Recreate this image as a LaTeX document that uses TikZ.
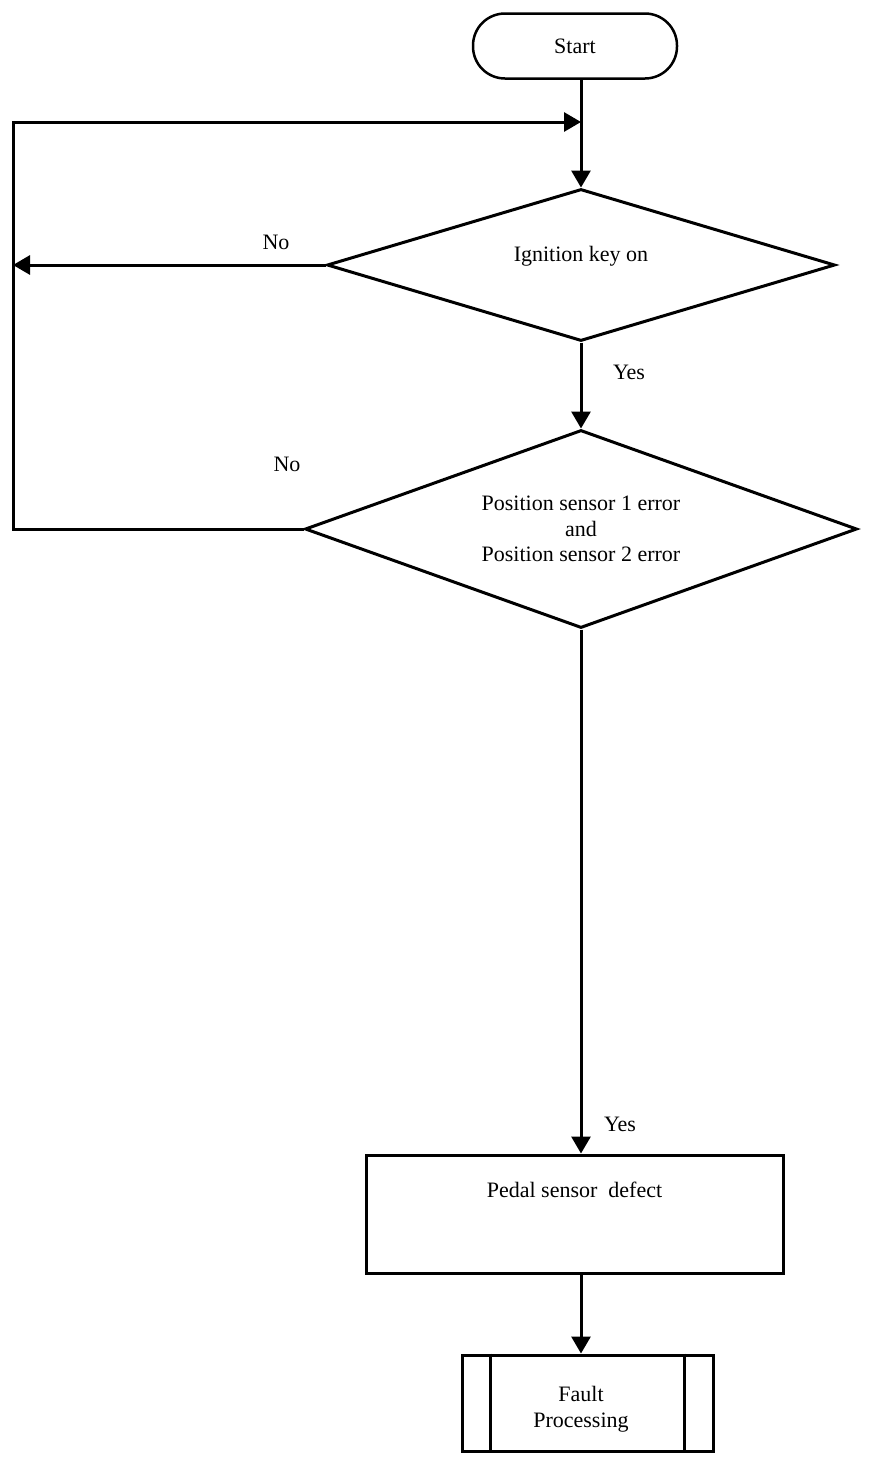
\documentclass[tikz,border=0pt]{standalone}
\usepackage{fontspec}
\setmainfont{Liberation Serif}
\usetikzlibrary{arrows.meta,shapes.geometric}

\begin{document}
\begin{tikzpicture}[x=1pt, y=-1pt, line width=3pt, >={Triangle[length=17pt,width=19pt]}, font=\fontsize{22}{25.5}\selectfont]
		%%%%% START %%%%%
		
		\useasboundingbox (0, 0) rectangle (880, 1462);
		
		\node[draw, line width=2.5pt, rounded corners=32pt, minimum width=204pt, minimum height=65pt] (start) at (575, 46) {\raisebox{-4pt}{Start}};
		
		\node[draw, diamond, aspect=3.3, inner sep=0pt, minimum width=508pt, minimum height=152pt] (key) at (581, 265) {\raisebox{22pt}{Ignition key on}};
		
		\node[draw, diamond, aspect=2.8, inner sep=0pt, align=center, minimum width=552pt, minimum height=198pt] (sensors) at (581, 529) {Position sensor 1 error\\and\\Position sensor 2 error};
		
		\node[draw, minimum width=417pt, minimum height=118pt] (defect) at (574.5, 1214) {\raisebox{48pt}{Pedal sensor\ \ defect}};
		
		\node[draw, align=center, minimum width=251pt, minimum height=96pt] (fault) at (587.5, 1403) {};
		\node[align=center] (faulttext) at (581, 1409) {Fault\\Processing};
		\draw ([xshift=30pt]fault.north west) -- ([xshift=30pt]fault.south west);
		\draw ([xshift=-30pt]fault.north east) -- ([xshift=-30pt]fault.south east);
		
		\coordinate (back) at (13, 122);
		
		\draw[->] (key.north |- start.south) -- (key.north);
		\draw[->] (sensors.west) -| (back) -- (back -| key.north);
		\draw[->] (key.west) -- (key.west -| back);
		\draw[->] (key.south) -- (sensors.north);
		\draw[->] (sensors.south) -- (sensors.south |- defect.north);
		\draw[->] (sensors.south |- defect.south) -- (sensors.south |- fault.north);
		
		\node (no1) at (276, 242) {No};
		\node (yes1) at (629, 372) {Yes};
		\node (no2) at (287, 464) {No};
		\node (yes2) at (620, 1124) {Yes};
		
		%%%%% END %%%%%
	\end{tikzpicture}
\end{document}
